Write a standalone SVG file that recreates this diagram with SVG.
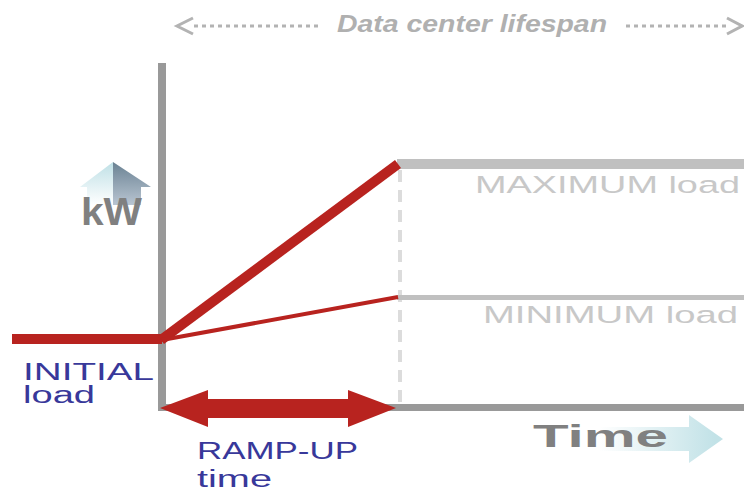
<svg xmlns="http://www.w3.org/2000/svg" width="744" height="489" viewBox="0 0 744 489">
  <defs>
    <linearGradient id="kwLeft" x1="0" y1="0" x2="0" y2="1">
      <stop offset="0" stop-color="#bfe0e6"/>
      <stop offset="1" stop-color="#ffffff"/>
    </linearGradient>
    <linearGradient id="kwRight" x1="0" y1="0" x2="0" y2="1">
      <stop offset="0" stop-color="#6a8293"/>
      <stop offset="1" stop-color="#b9c5d2"/>
    </linearGradient>
    <linearGradient id="timeFill" gradientUnits="userSpaceOnUse" x1="600" y1="0" x2="715" y2="0">
      <stop offset="0" stop-color="#ffffff"/>
      <stop offset="1" stop-color="#c2e2e7"/>
    </linearGradient>
    <style>
      .axis { fill: #999999; }
      .level { fill: #c0c0c0; }
      .red { fill: #b8231f; }
      .redline { stroke: #b8231f; fill: none; stroke-linecap: butt; }
      .dash { stroke: #dcdcdc; stroke-width: 4; stroke-dasharray: 12 8; fill: none; }
      .span { stroke: #b3b3b3; stroke-width: 3; fill: none; }
      .dots { stroke: #b3b3b3; stroke-width: 3; stroke-dasharray: 4 4; fill: none; }
      .lbl { font-family: "Liberation Sans", Arial, sans-serif; }
      .blue { fill: #38389a; font-size: 23.5px; }
      .pale { fill: #c8c8c8; font-size: 24.5px; }
      .big { fill: #808080; font-weight: bold; }
    </style>
  </defs>

  <!-- lifespan banner -->
  <g id="lifespan">
    <polyline class="span" points="193,18 177,26 193,34"/>
    <line class="dots" x1="194" y1="26" x2="318" y2="26"/>
    <line class="dots" x1="626" y1="26" x2="728" y2="26"/>
    <polyline class="span" points="727,18 742,26 727,34"/>
    <text class="lbl" x="337" y="32" font-size="23" font-weight="bold" font-style="italic" fill="#b0b0b0" textLength="270" lengthAdjust="spacingAndGlyphs">Data center lifespan</text>
  </g>

  <!-- guide lines and levels -->
  <g id="connectors">
    <line class="dash" x1="400" y1="170" x2="400" y2="404"/>
    <rect class="level" x="397" y="159" width="347" height="10"/>
    <rect class="level" x="397" y="295" width="347" height="5"/>
    <rect class="axis" x="158" y="63" width="8" height="348"/>
    <rect class="axis" x="158" y="404" width="586" height="7"/>
    <rect class="red" x="12" y="334" width="150" height="10"/>
    <line class="redline" stroke-width="10" x1="161" y1="340" x2="398" y2="164"/>
    <line class="redline" stroke-width="4" x1="162" y1="340" x2="398" y2="297"/>
    <polygon class="red" points="160,408 208,390 208,399 348,399 348,390 396,408 348,427 348,418 208,418 208,427"/>
  </g>

  <!-- kW marker -->
  <g id="kw">
    <polygon fill="url(#kwLeft)" points="113,162 80,187 87,187 87,205 113,205"/>
    <polygon fill="url(#kwRight)" points="113,162 151,187 141,187 141,205 113,205"/>
    <text class="lbl big" x="81" y="225" font-size="38" textLength="61" lengthAdjust="spacingAndGlyphs">kW</text>
  </g>

  <!-- Time marker -->
  <g id="time">
    <polygon fill="url(#timeFill)" points="600,427 689,427 689,415 723,439 689,463 689,451 600,451"/>
    <text class="lbl big" x="533" y="447" font-size="31" textLength="135" lengthAdjust="spacingAndGlyphs">Time</text>
  </g>

  <g id="max-load">
    <text class="lbl pale" x="475" y="193" textLength="265" lengthAdjust="spacingAndGlyphs">MAXIMUM load</text>
  </g>
  <g id="min-load">
    <text class="lbl pale" x="483" y="323" textLength="255" lengthAdjust="spacingAndGlyphs">MINIMUM load</text>
  </g>
  <g id="initial-load">
    <text class="lbl blue" x="23" y="380" textLength="131" lengthAdjust="spacingAndGlyphs">INITIAL</text>
    <text class="lbl blue" x="23" y="403" textLength="72" lengthAdjust="spacingAndGlyphs">load</text>
  </g>
  <g id="ramp-up">
    <text class="lbl blue" x="197" y="459" textLength="161" lengthAdjust="spacingAndGlyphs">RAMP-UP</text>
    <text class="lbl blue" x="197" y="487" textLength="75" lengthAdjust="spacingAndGlyphs">time</text>
  </g>
</svg>
